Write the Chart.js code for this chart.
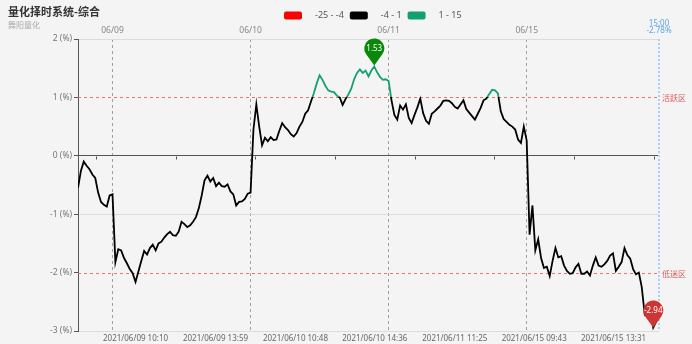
<!DOCTYPE html>
<html><head><meta charset="utf-8">
<script src="https://cdn.jsdelivr.net/npm/chart.js@4"></script>
<style>html,body{margin:0;padding:0;background:#f4f4f4;}#wrap{width:692px;height:344px;}</style>
</head><body><div id="wrap"><canvas id="c" width="692" height="344"></canvas></div>
<script>
// ---------- data ----------
const titleText = '量化择时系统-综合';
const subtitleText = '舞阳量化';
const dayLabels = ['06/09', '06/10', '06/11', '06/15'];
const dayStartIdx = [12, 60, 108, 156];      // index of the last bar before each session opens
const barMinutes = 5;
const bottomLabels = ['2021/06/09 10:10', '2021/06/09 13:59', '2021/06/10 10:48', '2021/06/10 14:36',
                      '2021/06/11 11:25', '2021/06/15 09:43', '2021/06/15 13:31'];
const yMin = -3, yMax = 2;
const markLevels = [1, -2];
const markNames = ['活跃区', '低迷区'];
const pieceRanges = [[-25, -4], [-4, 1], [1, 15]];
const pieceLabels = ['-25 - -4', '-4 - 1', '1 - 15'];
const endTimeLabel = '15:00';
const values = [
  -0.55,-0.26,-0.10,-0.17,-0.23,-0.32,-0.38,-0.63,-0.79,-0.84,-0.87,-0.68,-0.66,
  -1.82,-1.60,-1.62,-1.75,-1.84,-1.94,-2.01,-2.16,-1.98,-1.80,-1.63,-1.69,
  -1.58,-1.52,-1.62,-1.50,-1.47,-1.40,-1.34,-1.30,-1.36,-1.37,-1.30,-1.13,
  -1.17,-1.22,-1.19,-1.13,-1.05,-0.90,-0.68,-0.42,-0.34,-0.44,-0.38,-0.52,
  -0.46,-0.52,-0.53,-0.49,-0.61,-0.66,-0.85,-0.79,-0.78,-0.74,-0.65,-0.63,
  0.45,0.88,0.50,0.18,0.31,0.25,0.32,0.27,0.28,0.43,0.56,0.49,
  0.44,0.37,0.33,0.39,0.50,0.58,0.72,0.78,0.93,1.07,1.24,1.38,
  1.30,1.20,1.12,1.10,1.09,1.03,1.00,0.87,0.97,1.05,1.15,1.31,
  1.42,1.48,1.42,1.46,1.36,1.46,1.53,1.43,1.35,1.30,1.31,1.28,
  0.95,0.70,0.62,0.86,0.79,0.88,0.65,0.56,0.70,0.83,0.98,0.73,
  0.60,0.55,0.72,0.76,0.81,0.86,0.94,0.95,0.94,0.90,0.84,0.81,
  0.88,0.95,0.80,0.74,0.68,0.62,0.72,0.82,0.95,0.98,1.06,1.13,
  1.12,1.07,0.76,0.63,0.58,0.53,0.50,0.45,0.28,0.22,0.50,0.26,
  -1.35,-0.85,-1.62,-1.43,-1.75,-1.92,-1.90,-2.06,-1.80,-1.58,-1.74,-1.72,
  -1.88,-1.97,-2.02,-2.01,-1.91,-1.85,-2.02,-2.02,-1.98,-2.05,-1.88,-1.74,
  -1.88,-1.90,-1.86,-1.80,-1.71,-1.67,-1.97,-1.90,-1.82,-1.58,-1.70,-1.76,
  -1.94,-2.03,-2.00,-2.25,-2.70,-2.59,-2.65,-2.94,-2.84,-2.78
];

// ---------- styles ----------
const FONT = '"Noto Sans", "Noto Sans CJK SC", sans-serif';
const CJK = '"Noto Sans CJK SC", "Noto Sans", sans-serif';
const pieceColors = ['#ff0000', '#000000', '#12a06f'];
const markColor = '#e05a5a';
const markLineColor = '#e57373';
const endColor = '#5aa6ee';
const maxPinColor = '#0a880a';
const minPinColor = '#cf3532';

// ---------- derived ----------
function labelIndex(s) {
  const [date, time] = s.split(' ');
  const md = date.slice(5);
  const d = dayLabels.indexOf(md);
  const [h, m] = time.split(':').map(Number);
  const t = h * 60 + m;
  const mins = t <= 690 ? t - 570 : 120 + t - 780;
  return dayStartIdx[d] + mins / barMinutes;
}
const bottomIdx = bottomLabels.map(labelIndex);
const lastIdx = values.length - 1;
const points = values.map((v, i) => ({ x: i, y: v }));

function lineColor(ctx) {
  const chart = ctx.chart;
  const ys = chart.scales.y;
  if (!chart.chartArea || !ys) return '#000';
  const top = ys.getPixelForValue(pieceRanges[2][1]);
  const bot = ys.getPixelForValue(pieceRanges[0][0]);
  const g = chart.ctx.createLinearGradient(0, top, 0, bot);
  const f = v => (ys.getPixelForValue(v) - top) / (bot - top);
  g.addColorStop(0, pieceColors[2]);
  g.addColorStop(f(pieceRanges[2][0]), pieceColors[2]);
  g.addColorStop(f(pieceRanges[1][1]), pieceColors[1]);
  g.addColorStop(f(pieceRanges[1][0]), pieceColors[1]);
  g.addColorStop(f(pieceRanges[0][1]), pieceColors[0]);
  g.addColorStop(1, pieceColors[0]);
  return g;
}

function drawPin(ctx, x, tipY, color, text) {
  const r = 10, d = 17;
  const cy = tipY - d;
  const b = Math.acos(r / d);
  ctx.save();
  ctx.fillStyle = color;
  ctx.beginPath();
  ctx.moveTo(x, tipY);
  ctx.arc(x, cy, r, Math.PI / 2 + b, Math.PI / 2 - b, false);
  ctx.closePath();
  ctx.fill();
  ctx.fillStyle = '#fff';
  ctx.font = '8px ' + FONT;
  ctx.textAlign = 'center';
  ctx.textBaseline = 'middle';
  ctx.fillText(text, x, cy + 0.5);
  ctx.restore();
}

const decor = {
  id: 'decor',
  beforeDraw(chart) {
    const c = chart.ctx;
    c.save();
    c.fillStyle = '#f4f4f4';
    c.fillRect(0, 0, chart.width, chart.height);
    c.restore();
  },
  beforeDatasetsDraw(chart) {
    const c = chart.ctx, a = chart.chartArea, xs = chart.scales.x, ys = chart.scales.y;
    // mark lines
    markLevels.forEach((lv, k) => {
      const y = Math.round(ys.getPixelForValue(lv)) + 0.5;
      c.save();
      c.strokeStyle = markLineColor; c.lineWidth = 1; c.setLineDash([3, 3]);
      c.beginPath(); c.moveTo(a.left, y); c.lineTo(a.right, y); c.stroke();
      c.restore();
      c.save();
      c.fillStyle = markColor; c.font = '8px ' + CJK; c.textBaseline = 'middle'; c.textAlign = 'left';
      c.fillText(markNames[k], a.right + 3, y);
      c.restore();
    });
    c.save();
    // ticks on zero axis
    c.setLineDash([]); c.strokeStyle = '#555'; c.lineWidth = 1;
    const step = bottomIdx[1] - bottomIdx[0];
    const tks = [bottomIdx[0] - step / 2];
    for (let k = 0; k < bottomIdx.length - 1; k++) tks.push((bottomIdx[k] + bottomIdx[k + 1]) / 2);
    tks.push(bottomIdx[bottomIdx.length - 1] + step / 2);
    const y0 = Math.round(ys.getPixelForValue(0)) + 0.5;
    tks.forEach(t => {
      const x = Math.round(xs.getPixelForValue(t)) + 0.5;
      c.beginPath(); c.moveTo(x, y0); c.lineTo(x, y0 + 3); c.stroke();
    });
    // end line
    const xe = Math.round(xs.getPixelForValue(lastIdx));
    c.strokeStyle = '#a9d0f5'; c.lineWidth = 2; c.setLineDash([2, 2]);
    c.beginPath(); c.moveTo(xe, a.top); c.lineTo(xe, a.bottom); c.stroke();
    c.fillStyle = endColor; c.font = '8px ' + FONT; c.textAlign = 'center'; c.textBaseline = 'middle';
    c.fillText(endTimeLabel, xe, 24);
    c.fillText(values[lastIdx].toFixed(2) + '%', xe, 31);
    c.restore();
  },
  afterDatasetsDraw(chart) {
    const c = chart.ctx, xs = chart.scales.x, ys = chart.scales.y;
    let mi = 0, ma = 0;
    values.forEach((v, i) => { if (v > values[ma]) ma = i; if (v < values[mi]) mi = i; });
    drawPin(c, xs.getPixelForValue(ma), ys.getPixelForValue(values[ma]) - 1, maxPinColor, values[ma].toFixed(2));
    drawPin(c, xs.getPixelForValue(mi), ys.getPixelForValue(values[mi]), minPinColor, values[mi].toFixed(2));
  },
  afterDraw(chart) {
    const c = chart.ctx;
    c.save();
    c.textBaseline = 'alphabetic'; c.textAlign = 'left';
    c.fillStyle = '#333'; c.font = 'bold 11px ' + CJK;
    c.fillText(titleText, 8, 16);
    c.fillStyle = '#aaa'; c.font = '8px ' + CJK;
    c.fillText(subtitleText, 8, 28);
    // legend
    let x = 284;
    c.font = '9px ' + FONT; c.textBaseline = 'middle';
    pieceLabels.forEach((lab, k) => {
      c.fillStyle = pieceColors[k];
      c.beginPath(); c.roundRect(x, 11.5, 18, 8, 2); c.fill();
      x += 18 + 13;
      c.fillStyle = '#555';
      c.fillText(lab, x, 15.5);
      x += c.measureText(lab).width + 6;
    });
    c.restore();
  }
};

new Chart(document.getElementById('c'), {
  type: 'line',
  data: { datasets: [{ data: points, borderColor: lineColor, borderWidth: 1.8, pointRadius: 0, tension: 0, fill: false }] },
  options: {
    responsive: false, animation: false, devicePixelRatio: 1,
    layout: { padding: { left: 0, right: 33, top: 0, bottom: 0 } },
    plugins: { legend: { display: false }, tooltip: { enabled: false } },
    scales: {
      x: {
        type: 'linear', position: 'bottom', min: 0, max: lastIdx,
        afterBuildTicks: s => { s.ticks = bottomIdx.map(v => ({ value: v })); },
        afterFit: s => { s.height = 13; },
        ticks: { autoSkip: false, maxRotation: 0, padding: 3, color: '#666', font: { size: 8, family: FONT },
                 callback: (v, i) => bottomLabels[i] },
        grid: { display: false, drawTicks: false }, border: { display: false }
      },
      xTop: {
        type: 'linear', position: 'top', min: 0, max: lastIdx,
        afterBuildTicks: s => { s.ticks = dayStartIdx.map(v => ({ value: v })); },
        afterFit: s => { s.height = 39; },
        ticks: { autoSkip: false, maxRotation: 0, padding: 3, color: '#888', font: { size: 8.5, family: FONT },
                 callback: (v, i) => dayLabels[i] },
        grid: { display: true, drawTicks: false, color: '#a0a0a0', lineWidth: 1 },
        border: { display: false, dash: [3, 3] }
      },
      y: {
        min: yMin, max: yMax,
        afterFit: s => { s.width = 78; },
        ticks: { stepSize: 1, padding: 2, color: '#777', font: { size: 8.5, family: FONT },
                 callback: v => v + ' (%)' },
        grid: {
          tickLength: 4, tickColor: '#555',
          color: ctx => {
            const v = ctx.tick ? ctx.tick.value : null;
            if (v === 0) return '#555';
            if (markLevels.includes(v)) return 'rgba(0,0,0,0)';
            return '#dcdcdc';
          }
        },
        border: { color: '#555' }
      }
    }
  },
  plugins: [decor]
});
</script>
</body></html>
